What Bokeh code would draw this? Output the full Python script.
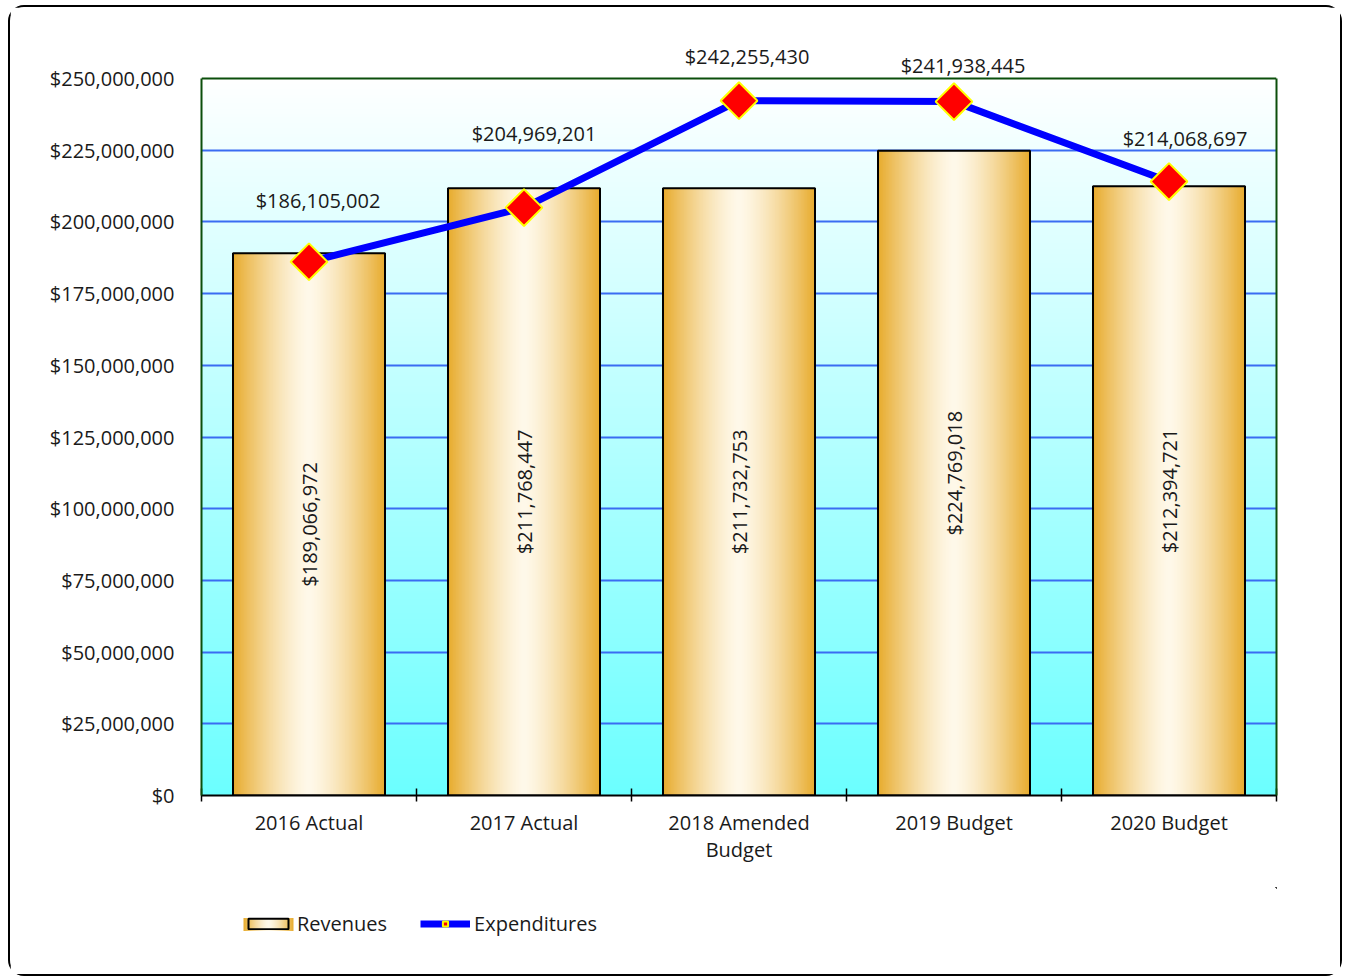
import numpy as np
from bokeh.plotting import figure
from bokeh.layouts import column
from bokeh.models import (Range1d, FixedTicker, NumeralTickFormatter, Legend,
                          LegendItem, ColumnDataSource, LinearAxis)
from bokeh.core.properties import value
from bokeh.embed import file_html
from bokeh.resources import INLINE

# ---------------- data ----------------
categories = ["2016 Actual", "2017 Actual", "2018 Amended\nBudget", "2019 Budget", "2020 Budget"]
revenues = [189066972, 211768447, 211732753, 224769018, 212394721]
expenditures = [186105002, 204969201, 242255430, 241938445, 214068697]
y_ticks = [0, 25000000, 50000000, 75000000, 100000000, 125000000,
           150000000, 175000000, 200000000, 225000000, 250000000]

# ---------------- styles ----------------
FONT = "Open Sans"
FS = "20px"
TXT = "#1a1a1a"
GREEN = "#0b4f0b"
bar_w = 0.707
exp_label_dx = [9, 10, 8, 9, 16]      # pixel nudges of expenditure labels
exp_label_dy = [-61, -74, -44, -36, -43]

n = len(categories)
centers = [i + 0.5 for i in range(n)]
lefts = [c - bar_w / 2 for c in centers]
boundaries = [float(i) for i in range(n + 1)]
y_top = y_ticks[-1]
# frame extends a little above the top tick so the labels there are not clipped
y_end = y_top * (795 - 36) / 717


def gradient_image(shape, colors):
    img = np.zeros(shape, dtype=np.uint32)
    view = img.view(dtype=np.uint8).reshape(shape + (4,))
    view[..., 0] = colors[..., 0]
    view[..., 1] = colors[..., 1]
    view[..., 2] = colors[..., 2]
    view[..., 3] = 255
    return img


# plot background: cyan at bottom -> white at top
N = 256
t = np.linspace(0, 1, N).reshape(N, 1, 1)
bottom_c = np.array([108, 255, 255], dtype=float)
top_c = np.array([255, 255, 255], dtype=float)
bg_cols = bottom_c + (top_c - bottom_c) * t
bg_img = gradient_image((N, 1), bg_cols.astype(np.uint8))

# bar gradient: gold at edges -> cream centre
M = 200
u = np.abs(np.linspace(-1, 1, M)).reshape(1, M, 1)
edge_c = np.array([232, 172, 46], dtype=float)
mid_c = np.array([255, 249, 234], dtype=float)
bar_cols = mid_c + (edge_c - mid_c) * (u ** 1.4)
bar_img = gradient_image((1, M), bar_cols.astype(np.uint8))

p = figure(width=1330, height=880, x_range=Range1d(0, n), y_range=Range1d(0, y_end),
           output_backend="svg", toolbar_location=None,
           min_border_left=191, min_border_right=64, min_border_top=29, min_border_bottom=92)
p.background_fill_color = "white"
p.border_fill_color = "white"
p.outline_line_color = None

p.image_rgba(image=[bg_img], x=0, y=0, dw=n, dh=y_top, level="image")

# grid
p.xgrid.visible = False
p.ygrid.ticker = FixedTicker(ticks=y_ticks[:-1])
p.ygrid.grid_line_color = "#3a6cf2"
p.ygrid.grid_line_width = 2

# top frame line
p.segment(x0=[0], y0=[y_top], x1=[n], y1=[y_top], line_color=GREEN, line_width=2)

# bars
p.image_rgba(image=[bar_img] * n, x=lefts, y=[0] * n, dw=[bar_w] * n, dh=revenues)
p.vbar(x=centers, width=bar_w, top=revenues, fill_alpha=0, line_color="black", line_width=2)

# revenue labels (rotated, mid-bar)
p.text(x=centers, y=[r / 2 for r in revenues], text=[f"${r:,}" for r in revenues],
       angle=np.pi / 2, text_align="center", text_baseline="middle",
       text_font=value(FONT), text_font_size=FS, text_color=TXT)

# expenditures
p.line(centers, expenditures, line_color="#0000ff", line_width=7)
p.scatter(centers, expenditures, marker="square", angle=np.pi / 4, size=26,
          fill_color="#ff0000", line_color="#ffff00", line_width=2)
src = ColumnDataSource(dict(x=centers, y=expenditures, t=[f"${e:,}" for e in expenditures],
                            dx=exp_label_dx, dy=exp_label_dy))
p.text(x="x", y="y", text="t", x_offset="dx", y_offset="dy", source=src,
       text_align="center", text_baseline="middle",
       text_font=value(FONT), text_font_size=FS, text_color=TXT)

# axes
yax = p.yaxis[0]
yax.ticker = FixedTicker(ticks=y_ticks)
yax.formatter = NumeralTickFormatter(format="$0,0")
yax.bounds = (0, y_top)
yax.axis_line_color = GREEN
yax.axis_line_width = 2
yax.major_tick_line_color = None
yax.major_tick_out = 0
yax.major_tick_in = 0
yax.minor_tick_line_color = None
yax.major_label_standoff = 27
yax.major_label_text_font = FONT
yax.major_label_text_font_size = FS
yax.major_label_text_color = TXT

rax = LinearAxis(ticker=FixedTicker(ticks=[]), bounds=(0, y_top), axis_line_color=GREEN,
                 axis_line_width=2, major_tick_line_color=None, minor_tick_line_color=None,
                 major_label_text_font_size="0px")
p.add_layout(rax, "right")

xax = p.xaxis[0]
xax.ticker = FixedTicker(ticks=centers, minor_ticks=boundaries)
xax.major_label_overrides = {c: cat for c, cat in zip(centers, categories)}
xax.major_tick_line_color = None
xax.major_tick_in = 0
xax.major_tick_out = 0
xax.minor_tick_line_color = "black"
xax.minor_tick_line_width = 1.5
xax.minor_tick_in = 7
xax.minor_tick_out = 6
xax.axis_line_color = "black"
xax.axis_line_width = 2
xax.major_label_standoff = 7
xax.major_label_text_font = FONT
xax.major_label_text_font_size = FS
xax.major_label_text_color = TXT
xax.major_label_text_line_height = 1.0

# ---------------- legend strip ----------------
# The strip's frame lines up with the chart frame (1075 px wide, 87 px tall).
# Its ranges are in pixels, offset far away so that the series proxies, which carry
# the real values, lie entirely outside the view; the key gradient sits under the key.
SW, SH, OFF = 1075, 87, 500
q = figure(width=1330, height=SH, x_range=Range1d(-SW - OFF, -OFF),
           y_range=Range1d(-SH - OFF, -OFF),
           output_backend="svg", toolbar_location=None,
           x_axis_type=None, y_axis_type=None, min_border=0)
q.outline_line_color = None
q.grid.visible = False
q.background_fill_color = "white"
q.border_fill_color = "white"

LEG_X, LEG_Y = 42, 37          # legend position inside the strip (px)
GW, GH = 50, 13                # legend key size (px)
key_img = gradient_image((1, M), bar_cols.astype(np.uint8))
q.image_rgba(image=[key_img], x=-SW - OFF + LEG_X, y=-SH - OFF + 50 - GH / 2, dw=GW, dh=GH)

rev_proxy = q.vbar(x=centers, bottom=revenues, top=revenues, width=bar_w, fill_alpha=0,
                   line_color="black", line_width=2)
exp_proxy_l = q.line(centers, expenditures, line_color="#0000ff", line_width=7)
exp_proxy_m = q.scatter(centers, expenditures, marker="square", angle=np.pi / 4, size=26,
                        fill_color="#ff0000", line_color="#ffff00", line_width=2)
legend = Legend(items=[LegendItem(label="Revenues", renderers=[rev_proxy]),
                       LegendItem(label="Expenditures", renderers=[exp_proxy_l, exp_proxy_m])],
                location=(LEG_X, LEG_Y), orientation="horizontal",
                glyph_width=GW, glyph_height=GH, label_standoff=4, spacing=33,
                padding=0, margin=0, border_line_color=None, background_fill_alpha=0,
                label_text_font=FONT, label_text_font_size=FS, label_text_color=TXT)
q.add_layout(legend)

layout = column(p, q, spacing=0,
                styles={"margin-left": "8px", "margin-top": "5px",
                        "border": "2px solid black", "border-radius": "16px"})

open("out.html", "w").write(file_html(layout, INLINE))
